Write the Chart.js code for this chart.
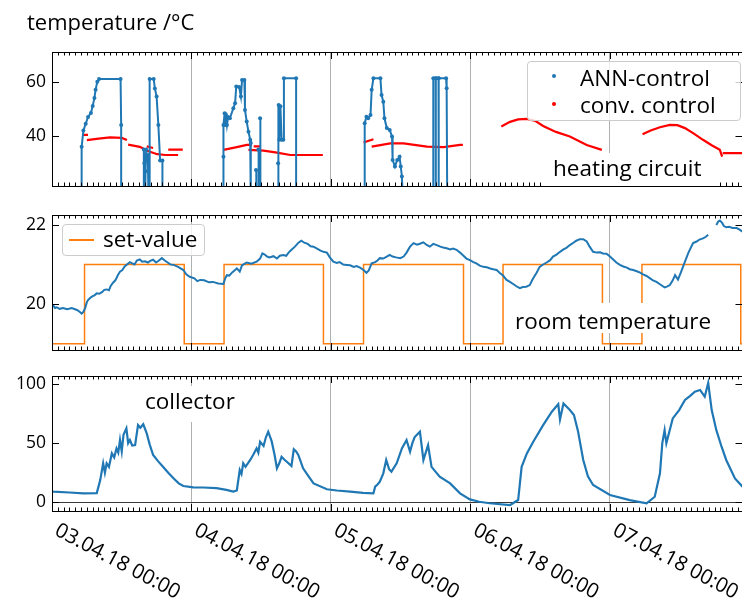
<!DOCTYPE html>
<html>
<head>
<meta charset="utf-8">
<script src="https://cdn.jsdelivr.net/npm/chart.js@4.4.1/dist/chart.umd.min.js"></script>
<style>
  body { margin: 0; width: 742px; height: 600px; overflow: hidden; background: #fff; position: relative; font-family: 'Open Sans', sans-serif; color: #000; }
  canvas { position: absolute; left: 0; }
  .txt { position: absolute; white-space: nowrap; line-height: 1; }
  .box { position: absolute; background: #fff; }
  .legend { position: absolute; background: rgba(255,255,255,0.8); border: 1px solid #cccccc; border-radius: 4px; box-sizing: border-box; }
  .dot { position: absolute; width: 4px; height: 4px; border-radius: 50%; }
</style>
</head>
<body>
<canvas id="heat" width="760" height="200" style="top:0px"></canvas>
<canvas id="room" width="760" height="160" style="top:200px"></canvas>
<canvas id="coll" width="760" height="240" style="top:360px"></canvas>

<div class="txt" style="left:27px;top:10px;font-size:22px">temperature /°C</div>

<!-- panel 1 overlays -->
<div class="box" style="left:545px;top:153px;width:171px;height:33px"></div>
<div class="txt" style="left:553px;top:157px;font-size:22.5px">heating circuit</div>
<div class="legend" style="left:527px;top:61px;width:214px;height:60px"></div>
<div class="dot" style="left:552px;top:74px;background:#1f77b4"></div>
<div class="txt" style="left:580px;top:67px;font-size:22.5px">ANN-control</div>
<div class="dot" style="left:552px;top:102px;background:#ff0000"></div>
<div class="txt" style="left:580px;top:94px;font-size:22.5px">conv. control</div>

<!-- panel 2 overlays -->
<div class="box" style="left:508px;top:303px;width:212px;height:30px"></div>
<div class="txt" style="left:515px;top:310px;font-size:22.5px">room temperature</div>
<div class="legend" style="left:62px;top:224px;width:143px;height:32px"></div>
<div style="position:absolute;left:69px;top:239px;width:25px;height:1.5px;background:#ff7f0e"></div>
<div class="txt" style="left:103px;top:228px;font-size:22.5px">set-value</div>

<!-- panel 3 overlays -->
<div class="box" style="left:139px;top:386px;width:104px;height:36px"></div>
<div class="txt" style="left:145px;top:390px;font-size:22.5px">collector</div>

<script>
// x axis: hours since 03.04.18 00:00
const hourMax = 118.8;
const dayTicks = [0, 24, 48, 72, 96];
const dayLabels = ['03.04.18 00:00', '04.04.18 00:00', '05.04.18 00:00', '06.04.18 00:00', '07.04.18 00:00'];

const heatTicks = [40, 60];
const roomTicks = [20, 22];
const collTicks = [0, 50, 100];

// heating circuit, ANN-control  [hour, °C]  (15 = off, below the axis)
const annControl = [
  [5.1,15],[5.1,36],[5.4,42],[5.8,44.5],[6.2,47],[6.7,48.5],[7.0,51],[7.3,54],[7.5,57],[7.8,60],[8.1,61],[11.8,61],[11.9,44],[11.9,15],
  [15.8,15],[15.8,35],[15.9,30],[16.0,15],[16.1,27],[16.2,35],[16.4,31],[16.5,33],[16.6,15],[16.8,15],[16.8,61],[17.5,61],[17.7,57.5],[18.0,54.5],[18.3,44],[18.6,31],[19.0,31],[19.0,15],
  [29.5,15],[29.5,32.4],[29.5,44],[29.7,48.4],[29.8,44],[29.9,48],[30.1,44],[30.3,47],[30.6,46.5],[31.2,50.2],[31.5,52],[31.7,58.2],[32.2,58],[32.5,54.5],[32.7,60.6],[33.1,60.6],[33.2,49.6],[33.5,45.3],[33.8,41.6],[34.1,38.6],[34.2,37.4],[34.2,15],
  [35.1,15],[35.1,27.5],[35.2,15],[35.5,15],[35.5,35],[35.6,15],[35.8,15],[35.8,46.5],[35.9,15],
  [38.9,15],[38.9,30],[39.0,51.4],[39.1,38.6],[39.3,50.9],[39.5,38.6],[39.8,38.6],[39.9,61.2],[42.0,61.2],[42.0,15],
  [53.8,15],[53.8,44.7],[54.1,47.1],[54.4,46.5],[54.8,47.7],[55.0,57],[55.3,61.2],[56.5,61.2],[56.7,55.1],[57.0,52.6],[57.2,46.5],[57.6,42.9],[58.1,42.2],[58.5,39.8],[58.6,31.2],[59.0,28.8],[59.4,31.2],[59.8,32.4],[60.0,28.8],[60.2,25.1],[60.4,15],
  [65.6,15],[65.6,61.2],[66.0,61.2],[66.0,15],[66.05,15],[66.05,61.2],[66.5,61.2],[66.5,15],[66.55,15],[66.55,61.2],[67.8,61.2],[67.9,57.6],[68.0,15]
];

// heating circuit, conventional control  [hour, °C]  (null = gap)
const convControl = [
  [5.3,40.4],[6.2,40.4],[6.2,null],
  [6.0,38.5],[8.0,39.0],[10.0,39.5],[12.0,39.3],[12.9,38.5],[12.9,null],
  [13.1,36.8],[15.1,36.0],[16.5,34.5],[18.1,33.3],[19.5,33],[21.7,33],[21.7,null],
  [16.3,36.2],[17.4,35.6],[17.4,null],
  [20.0,35],[22.5,35],[22.5,null],
  [29.5,34.9],[31.8,35.9],[33.5,36.7],[34.4,36.7],[34.4,null],
  [34.7,36.2],[35.8,36.2],[35.8,null],
  [33.8,34.9],[36.4,34.6],[38.7,33.9],[41.0,33],[46.6,33],[46.6,null],
  [53.6,37.6],[55.3,38.8],[55.3,null],
  [55.0,36.1],[58.2,37.3],[60.5,37.3],[64.5,36.1],[67.4,35.9],[70.2,36.7],[70.7,36.7],[70.7,null],
  [77.3,43.5],[78.8,45.2],[80.2,46.1],[81.7,46.3],[83.2,45.5],[84.5,43.7],[86.7,41.5],[89.1,39.8],[92.0,36.7],[94.6,34.9],[94.6,null],
  [101.6,40.6],[103.0,42.0],[104.6,43.2],[106.3,44.1],[107.6,44.0],[108.9,42.9],[110.5,40.8],[112.0,38.6],[113.5,36.6],[114.9,34.9],[115.3,32.4],[115.3,null],
  [115.4,33.7],[118.8,33.7]
];

// room temperature  [hour, °C]
const roomTemp = [
  [0,20.0],[0.2,19.97],[0.5,19.9],[0.8,19.92],[1.3,19.88],[1.9,19.9],[2.6,19.87],[3.4,19.9],[4.3,19.85],[4.8,19.8],
  [5.1,19.76],[5.4,19.8],[5.7,19.9],[6.0,20.05],[6.2,20.1],[6.6,20.16],[7.0,20.2],[7.3,20.22],[7.7,20.27],[8.1,20.26],
  [8.6,20.3],[9.0,20.36],[9.4,20.37],[9.8,20.35],[10.1,20.46],[10.5,20.54],[10.9,20.6],[11.3,20.72],[11.7,20.82],[12.1,20.86],
  [12.5,20.95],[12.9,21.0],[13.4,21.06],[13.8,21.03],[14.2,21.0],[14.6,21.1],[15.1,21.13],[15.5,21.07],[16.0,21.08],[16.5,21.05],
  [16.9,21.09],[17.4,21.12],[17.9,21.05],[18.4,21.1],[18.9,21.16],[19.4,21.1],[19.9,21.05],[20.4,21.0],[20.9,20.99],[21.7,20.94],
  [22.6,20.86],[23.1,20.75],[23.7,20.69],[24.5,20.65],[25.0,20.58],[25.5,20.61],[26.2,20.6],[27.0,20.55],[27.7,20.56],[28.6,20.52],
  [29.5,20.51],[29.8,20.65],[30.1,20.73],[30.5,20.72],[31.0,20.8],[31.4,20.85],[31.8,20.9],[32.3,20.82],[32.7,20.98],[33.5,21.05],
  [34.3,21.02],[35.2,21.07],[35.8,21.15],[36.2,21.28],[36.6,21.25],[37.0,21.2],[37.4,21.18],[38.1,21.21],[38.7,21.15],[39.2,21.22],
  [39.8,21.24],[40.3,21.22],[40.7,21.3],[41.2,21.37],[41.8,21.45],[42.4,21.55],[42.9,21.6],[43.4,21.55],[44.0,21.52],[44.5,21.46],
  [45.0,21.45],[45.6,21.4],[46.2,21.35],[46.7,21.32],[47.3,21.3],[47.8,21.18],[48.4,21.07],[49.0,21.04],[49.5,21.06],[50.1,21.0],
  [50.7,20.99],[51.3,20.98],[51.9,20.94],[52.4,20.96],[53.0,20.92],[53.6,20.86],[54.1,20.79],[54.5,20.85],[55.0,21.03],[55.6,21.06],
  [56.0,21.1],[56.4,21.16],[57.0,21.15],[57.6,21.2],[58.1,21.24],[58.6,21.2],[59.2,21.18],[59.9,21.16],[60.5,21.2],[61.0,21.3],
  [61.6,21.45],[62.2,21.54],[62.8,21.5],[63.4,21.53],[63.9,21.56],[64.4,21.5],[65.0,21.45],[65.6,21.52],[66.2,21.49],[66.8,21.45],
  [67.3,21.43],[67.9,21.41],[68.5,21.38],[69.0,21.4],[69.6,21.37],[70.2,21.3],[70.8,21.22],[71.3,21.15],[71.9,21.11],[72.5,21.06],
  [73.0,21.03],[73.6,20.97],[74.2,20.94],[74.8,20.93],[75.4,20.9],[75.9,20.88],[76.5,20.86],[77.1,20.78],[77.6,20.72],[78.2,20.61],
  [78.8,20.56],[79.4,20.5],[79.9,20.45],[80.5,20.4],[81.0,20.43],[81.6,20.44],[82.2,20.48],[82.6,20.6],[83.0,20.7],[83.4,20.8],
  [83.9,20.94],[84.5,21.0],[85.1,21.05],[85.7,21.11],[86.2,21.2],[86.8,21.25],[87.4,21.32],[88.0,21.38],[88.5,21.42],[89.1,21.49],
  [89.7,21.55],[90.2,21.6],[90.8,21.64],[91.4,21.64],[92.0,21.58],[92.5,21.45],[93.1,21.32],[93.7,21.3],[94.3,21.31],[94.8,21.28],
  [95.4,21.27],[96.0,21.2],[96.6,21.12],[97.1,21.05],[97.7,20.99],[98.3,20.95],[98.9,20.92],[99.4,20.88],[100.0,20.86],[100.6,20.83],
  [101.1,20.8],[101.7,20.75],[102.3,20.71],[102.9,20.65],[103.4,20.6],[104.0,20.56],[104.6,20.5],[105.1,20.45],[105.4,20.42],[105.8,20.44],
  [106.3,20.48],[106.8,20.6],[107.2,20.73],[107.7,20.62],[108.2,20.8],[108.9,21.07],[109.5,21.3],[110.3,21.54],[110.9,21.58],[111.4,21.63],
  [112.0,21.66],[112.5,21.7],[112.9,21.75],[113.6,null],[114.3,22.0],[114.6,22.08],[114.9,22.11],[115.3,22.05],[115.6,21.97],[116.0,21.94],
  [116.5,21.95],[117.1,21.92],[117.8,21.92],[118.3,21.88],[118.8,21.83]
];

// room set-value  [hour from which value holds, °C]
const setValue = [
  [0,19],[5.6,21],[22.75,19],[29.6,21],[46.7,19],[53.6,21],[70.8,19],[77.6,21],[94.7,19],[101.5,21],[118.5,19],[118.8,19]
];

// collector  [hour, °C]
const collector = [
  [0,9.2],[0.2,9],[3.0,8.3],[5.4,7.6],[7.7,7.8],[8.3,18.8],[8.8,33],[9.1,25],[9.4,33],[9.8,30],
  [10.3,41.4],[10.7,38],[11.1,45.6],[11.4,42],[11.7,52.7],[12.0,43],[12.3,57],[12.8,62.5],[13.1,50],[13.4,52.7],
  [13.8,48],[14.3,48.4],[14.8,65.3],[15.2,63],[15.7,66],[16.3,58.3],[16.8,49],[17.4,40],[18.2,35],[19.1,30],
  [20.0,25],[20.9,20.3],[21.8,16],[22.6,13.8],[24.3,12.7],[26.0,12.5],[28.3,12],[30.0,10.5],[31.2,9],[31.8,10],
  [32.3,27.3],[32.6,24],[32.9,33],[33.3,30],[34.1,35.8],[34.6,40],[35.2,45.6],[35.5,42],[35.8,51.2],[36.4,47.6],
  [36.8,55],[37.2,59.7],[37.8,51.5],[38.3,40],[38.7,28.7],[39.1,33],[39.5,38.5],[40.0,36],[40.4,34.3],[41.2,30.7],
  [41.6,44.8],[42.0,43],[42.4,39.9],[43.2,28.7],[44.0,23],[45.0,16],[47.3,11],[49.0,10],[51.3,9],[53.5,8],
  [55.3,7.6],[55.6,13.2],[56.0,15],[56.4,17.4],[57.0,24.5],[57.5,35.8],[58.0,28],[58.4,25.9],[59.3,33],[60.2,45.6],
  [61.0,52.7],[61.6,42.8],[62.0,50],[62.4,55.2],[63.3,59.7],[63.9,35.8],[64.7,48.4],[65.3,30],[66.7,21.6],[68.5,16],
  [70.2,7.6],[71.9,2.5],[73.5,0.5],[75.3,-0.8],[78.8,-2.3],[80.2,1.9],[80.8,30],[81.7,41.4],[82.8,51.2],[84.5,65.3],
  [86.0,76.6],[87.1,83],[87.4,70],[88.0,83.5],[89.1,78],[89.8,73.8],[90.5,60],[91.4,35.8],[92.2,22],[93.1,14.6],
  [96.0,6.2],[99.4,1.9],[102.3,-0.8],[103.7,4.7],[104.6,24.5],[105.0,50],[105.4,61],[105.7,49.9],[106.8,70.9],[107.9,78],
  [108.9,86.5],[109.8,90],[110.6,93.5],[111.5,95],[112.3,89.3],[112.9,101],[113.5,78],[114.3,61],[115.2,47],[116.0,35.8],
  [117.5,20.2],[118.8,13.2]
];

const BLUE = '#1f77b4', ORANGE = '#ff7f0e', RED = '#ff0000';
const pts = arr => arr.map(([x, y]) => ({ x, y }));

// box, inward ticks (hourly minor, daily major)
const framePlugin = {
  id: 'frame',
  afterDraw(chart) {
    const { ctx, chartArea: a, scales: { x, y } } = chart;
    ctx.save();
    ctx.strokeStyle = '#000';
    ctx.lineWidth = 1;
    ctx.strokeRect(a.left + 0.5, a.top + 0.5, a.right - a.left, a.bottom - a.top);
    ctx.beginPath();
    for (let h = 0; h <= hourMax; h++) {
      const px = Math.round(x.getPixelForValue(h)) + 0.5;
      const len = dayTicks.includes(h) ? 7 : 3.5;
      ctx.moveTo(px, a.bottom); ctx.lineTo(px, a.bottom - len);
      ctx.moveTo(px, a.top); ctx.lineTo(px, a.top + len);
    }
    y.ticks.forEach(t => {
      const py = Math.round(y.getPixelForValue(t.value)) + 0.5;
      ctx.moveTo(a.left, py); ctx.lineTo(a.left + 7, py);
      ctx.moveTo(a.right, py); ctx.lineTo(a.right - 7, py);
    });
    ctx.stroke();
    ctx.restore();
  }
};

// rotated date labels under the last panel
const dateLabels = {
  id: 'dateLabels',
  afterDraw(chart) {
    const { ctx, chartArea: a, scales: { x } } = chart;
    ctx.save();
    ctx.fillStyle = '#000';
    ctx.font = '20.5px "Open Sans"';
    ctx.textAlign = 'left';
    ctx.textBaseline = 'top';
    dayTicks.forEach((h, i) => {
      ctx.save();
      ctx.translate(x.getPixelForValue(h) + 9, a.bottom + 9);
      ctx.rotate(28 * Math.PI / 180);
      ctx.fillText(dayLabels[i], 0, 0);
      ctx.restore();
    });
    ctx.restore();
  }
};

function makePanel(id, canvasTop, canvasH, areaTop, areaBottom, yMin, yMax, yTicks, datasets, extraPlugins, zeroLine) {
  return new Chart(document.getElementById(id), {
    type: 'line',
    data: { datasets },
    options: {
      responsive: false,
      animation: false,
      devicePixelRatio: 1,
      layout: { padding: { top: areaTop - canvasTop, right: 760 - 742.5, left: 0, bottom: 0 } },
      plugins: { legend: { display: false }, tooltip: { enabled: false } },
      scales: {
        x: {
          type: 'linear', min: 0, max: hourMax,
          afterBuildTicks: s => { s.ticks = dayTicks.map(v => ({ value: v })); },
          afterFit: s => { s.height = canvasTop + canvasH - areaBottom; },
          ticks: { display: false },
          border: { display: false },
          grid: { color: '#b0b0b0', lineWidth: 1, drawTicks: false }
        },
        y: {
          min: yMin, max: yMax,
          afterBuildTicks: s => { s.ticks = yTicks.map(v => ({ value: v })); },
          afterFit: s => { s.width = 52; s.paddingTop = 0; s.paddingBottom = 0; },
          ticks: { color: '#000', font: { family: 'Open Sans', size: 17.5 }, padding: 6 },
          border: { display: false },
          grid: {
            display: !!zeroLine, drawTicks: false, lineWidth: 1,
            color: c => (c.tick && c.tick.value === 0) ? '#3a3a3a' : 'rgba(0,0,0,0)'
          }
        }
      }
    },
    plugins: [framePlugin, ...extraPlugins]
  });
}

makePanel('heat', 0, 200, 52, 186, 21.6, 70.9, heatTicks, [
  { data: pts(annControl), borderColor: BLUE, backgroundColor: BLUE, borderWidth: 2,
    pointRadius: 2, pointBorderWidth: 0, pointHoverRadius: 0, tension: 0 },
  { data: pts(convControl), borderColor: RED, borderWidth: 2.2, pointRadius: 0, spanGaps: false }
], []);

makePanel('room', 200, 160, 215, 350, 18.84, 22.25, roomTicks, [
  { data: pts(roomTemp), borderColor: BLUE, borderWidth: 2, pointRadius: 0, spanGaps: false },
  { data: pts(setValue), borderColor: ORANGE, borderWidth: 1.5, pointRadius: 0, stepped: true }
], []);

makePanel('coll', 360, 240, 376, 511, -7.35, 106.8, collTicks, [
  { data: pts(collector), borderColor: BLUE, borderWidth: 2.2, pointRadius: 0 }
], [dateLabels], true);
</script>
</body>
</html>
